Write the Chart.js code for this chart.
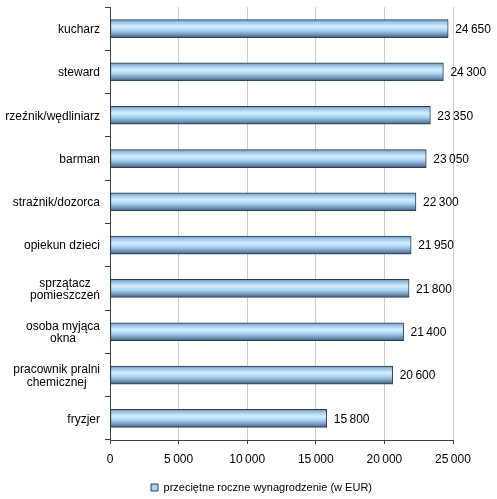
<!DOCTYPE html>
<html>
<head>
<meta charset="utf-8">
<script src="https://cdn.jsdelivr.net/npm/chart.js@4"></script>
<style>
html,body{margin:0;padding:0;background:#fff;}
#wrap{width:497px;height:499px;}
</style>
</head>
<body>
<div id="wrap"><canvas id="c" width="497" height="499"></canvas></div>
<script>
const categories = [
  ["kucharz"],
  ["steward"],
  ["rzeźnik/wędliniarz"],
  ["barman"],
  ["strażnik/dozorca"],
  ["opiekun dzieci"],
  ["sprzątacz", "pomieszczeń"],
  ["osoba myjąca", "okna"],
  ["pracownik pralni", "chemicznej"],
  ["fryzjer"]
];
const salaries = [24650, 24300, 23350, 23050, 22300, 21950, 21800, 21400, 20600, 15800];
const seriesName = "przeciętne roczne wynagrodzenie (w EUR)";
const xTicks = [0, 5000, 10000, 15000, 20000, 25000];

const FONT = "'Liberation Sans', Arial, sans-serif";
function fmt(v){ return String(v).replace(/\B(?=(\d{3})+(?!\d))/g, "\u2009"); }

const BAR_T = 18;
function barFill(ctx){
  const chart = ctx.chart;
  const ys = chart.scales && chart.scales.y;
  if (!ys || ctx.dataIndex === undefined) return "#a9d3f0";
  const c = ys.getPixelForValue(ctx.dataIndex);
  const g = chart.ctx.createLinearGradient(0, c - BAR_T/2, 0, c + BAR_T/2);
  g.addColorStop(0, "#6f93b8");
  g.addColorStop(0.15, "#9cc4e6");
  g.addColorStop(0.38, "#d3f0ff");
  g.addColorStop(0.6, "#a8d3f2");
  g.addColorStop(0.85, "#6b8fb3");
  g.addColorStop(1, "#3f5a78");
  return g;
}

const valueLabels = {
  id: "valueLabels",
  afterDatasetsDraw(chart){
    const ctx = chart.ctx;
    const meta = chart.getDatasetMeta(0);
    ctx.save();
    ctx.font = "12px " + FONT;
    ctx.fillStyle = "#000";
    ctx.textAlign = "left";
    ctx.textBaseline = "middle";
    meta.data.forEach((bar, i) => {
      ctx.fillText(fmt(salaries[i]), bar.x + 7, bar.y + 1);
    });
    ctx.restore();
  }
};

const catLabels = {
  id: "catLabels",
  afterDraw(chart){
    const ctx = chart.ctx;
    const ys = chart.scales.y;
    ctx.save();
    ctx.font = "12px " + FONT;
    ctx.fillStyle = "#000";
    ctx.textAlign = "center";
    ctx.textBaseline = "middle";
    const lh = 12.5;
    categories.forEach((lines, i) => {
      const y = ys.getPixelForValue(i);
      const maxW = Math.max(...lines.map(l => ctx.measureText(l).width));
      const cx = 100 - maxW/2;
      const y0 = y - (lines.length - 1) * lh / 2;
      lines.forEach((l, k) => ctx.fillText(l, cx, y0 + k * lh + 1));
    });
    ctx.restore();
  }
};

const legendShift = {
  id: "legendShift",
  afterLayout(chart){
    const lg = chart.legend;
    if (!lg) return;
    const dx = 35, dy = 6;
    lg.left += dx; lg.right += dx;
    lg.top += dy; lg.bottom += dy;
    if (lg.adjustHitBoxes) lg.adjustHitBoxes();
  }
};

new Chart(document.getElementById("c"), {
  type: "bar",
  data: {
    labels: categories.map(l => l.join(" ")),
    datasets: [{
      label: seriesName,
      data: salaries,
      backgroundColor: barFill,
      borderColor: "#2c3e55",
      borderWidth: 1,
      borderSkipped: false,
      barThickness: BAR_T
    }]
  },
  options: {
    indexAxis: "y",
    responsive: false,
    animation: false,
    devicePixelRatio: 1,
    layout: { padding: { top: 7, right: 44, left: 0, bottom: 2 } },
    scales: {
      x: {
        min: 0, max: 25000,
        afterBuildTicks(scale){ scale.ticks = xTicks.map(v => ({ value: v })); },
        ticks: {
          callback: v => fmt(v),
          font: { size: 12, family: FONT },
          color: "#000",
          padding: 8,
          maxRotation: 0
        },
        grid: {
          color: "#cccccc",
          borderDash: [3, 3],
          tickBorderDash: [],
          tickColor: "#404040",
          tickLength: 4,
          drawTicks: true
        },
        border: { display: true, color: "#404040", dash: [] },
        afterFit(scale){ scale.height = 30; }
      },
      y: {
        ticks: { display: false },
        grid: {
          offset: true,
          drawOnChartArea: false,
          color: "#404040",
          tickColor: "#404040",
          tickLength: 5
        },
        border: { display: true, color: "#404040" },
        afterFit(scale){ scale.width = 110; }
      }
    },
    plugins: {
      legend: {
        position: "bottom",
        labels: {
          font: { size: 11, family: FONT },
          color: "#000",
          boxWidth: 7,
          boxHeight: 7,
          padding: 6,
          generateLabels(){
            return [{
              text: seriesName,
              fillStyle: "#a9d3f0",
              strokeStyle: "#2c3e55",
              lineWidth: 1,
              datasetIndex: 0,
              hidden: false
            }];
          }
        }
      },
      tooltip: { enabled: false }
    }
  },
  plugins: [valueLabels, catLabels, legendShift]
});
</script>
</body>
</html>
